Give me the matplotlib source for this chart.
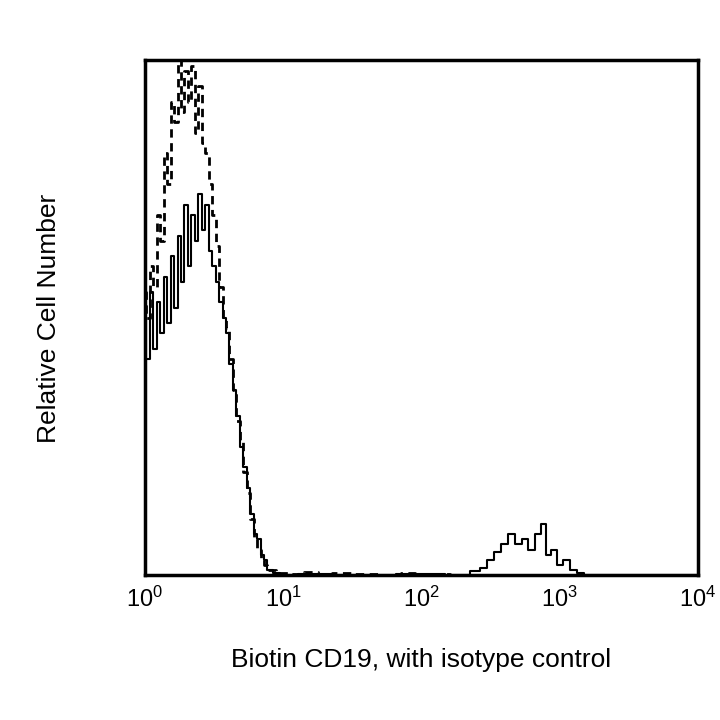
import matplotlib
import numpy as np

matplotlib.use("Agg")
import matplotlib.pyplot as plt  # noqa: E402

plt.rcParams["font.family"] = ["Liberation Sans", "DejaVu Sans"]

# log10 channel positions and relative counts
solid_log = [0.00, 0.025, 0.05, 0.075, 0.10, 0.125, 0.15, 0.175, 0.20, 0.225,
             0.25, 0.275, 0.30, 0.325, 0.35, 0.375, 0.40, 0.425, 0.45, 0.475,
             0.50, 0.525, 0.55, 0.575, 0.60, 0.625, 0.65, 0.675, 0.70, 0.725,
             0.75, 0.775, 0.80, 0.825, 0.85, 0.875, 0.90, 0.95, 1.0, 1.2,
             1.5, 2.0, 2.3, 2.40, 2.45, 2.50, 2.55, 2.60, 2.65, 2.70, 2.75,
             2.80, 2.85, 2.88, 2.92, 2.96, 3.00, 3.05, 3.10, 3.15, 3.2, 4.0]
solid_y = [0.50, 0.42, 0.55, 0.44, 0.53, 0.47, 0.58, 0.49, 0.62, 0.52,
           0.66, 0.57, 0.72, 0.60, 0.70, 0.65, 0.74, 0.67, 0.72, 0.63,
           0.60, 0.57, 0.53, 0.50, 0.47, 0.41, 0.36, 0.31, 0.25, 0.21,
           0.17, 0.12, 0.08, 0.07, 0.04, 0.03, 0.01, 0.005, 0.0, 0.003,
           0.0, 0.002, 0.0, 0.008, 0.015, 0.03, 0.045, 0.06, 0.08, 0.06, 0.07,
           0.05, 0.08, 0.10, 0.04, 0.05, 0.02, 0.03, 0.01, 0.005, 0.0, 0.0]

dashed_log = [0.00, 0.025, 0.05, 0.075, 0.10, 0.125, 0.15, 0.175, 0.20, 0.225,
              0.25, 0.275, 0.30, 0.325, 0.35, 0.375, 0.40, 0.425, 0.45, 0.475,
              0.50, 0.525, 0.55, 0.575, 0.60, 0.625, 0.65, 0.675, 0.70, 0.725,
              0.75, 0.775, 0.80, 0.825, 0.85, 0.875, 0.90, 1.0, 1.1, 1.2,
              1.3, 1.4, 1.6, 1.8, 1.9, 2.0, 2.1, 2.3, 4.0]
dashed_y = [0.55, 0.50, 0.60, 0.56, 0.70, 0.65, 0.82, 0.76, 0.92, 0.88,
            1.00, 0.90, 0.98, 0.92, 0.99, 0.86, 0.95, 0.84, 0.82, 0.76,
            0.70, 0.64, 0.56, 0.50, 0.48, 0.42, 0.36, 0.30, 0.26, 0.20,
            0.16, 0.11, 0.07, 0.05, 0.03, 0.02, 0.01, 0.005, 0.003, 0.006,
            0.002, 0.004, 0.003, 0.0, 0.004, 0.0, 0.003, 0.0, 0.0]

fig = plt.figure(figsize=(7.2, 7.2), dpi=100)
ax = fig.add_axes([0.201, 0.201, 0.768, 0.715])
ax.plot(10 ** np.array(dashed_log), dashed_y, color="black", lw=2.0,
        ls=(0, (3, 2)), drawstyle="steps-mid")
ax.plot(10 ** np.array(solid_log), solid_y, color="black", lw=1.5,
        drawstyle="steps-mid")
ax.set_xscale("log")
ax.set_xlim(1, 1e4)
ax.set_ylim(0, 1.0)
ax.set_yticks([])
ax.set_xticks([1, 10, 100, 1000, 10000])
ax.minorticks_off()
ax.tick_params(axis="x", length=0, labelsize=17, pad=8)
for spine in ax.spines.values():
    spine.set_linewidth(2.5)
ax.set_xlabel("Biotin CD19, with isotype control", fontsize=19, labelpad=26)
ax.set_ylabel("Relative Cell Number", fontsize=19, labelpad=60)
fig.savefig("out.png", dpi=100)
